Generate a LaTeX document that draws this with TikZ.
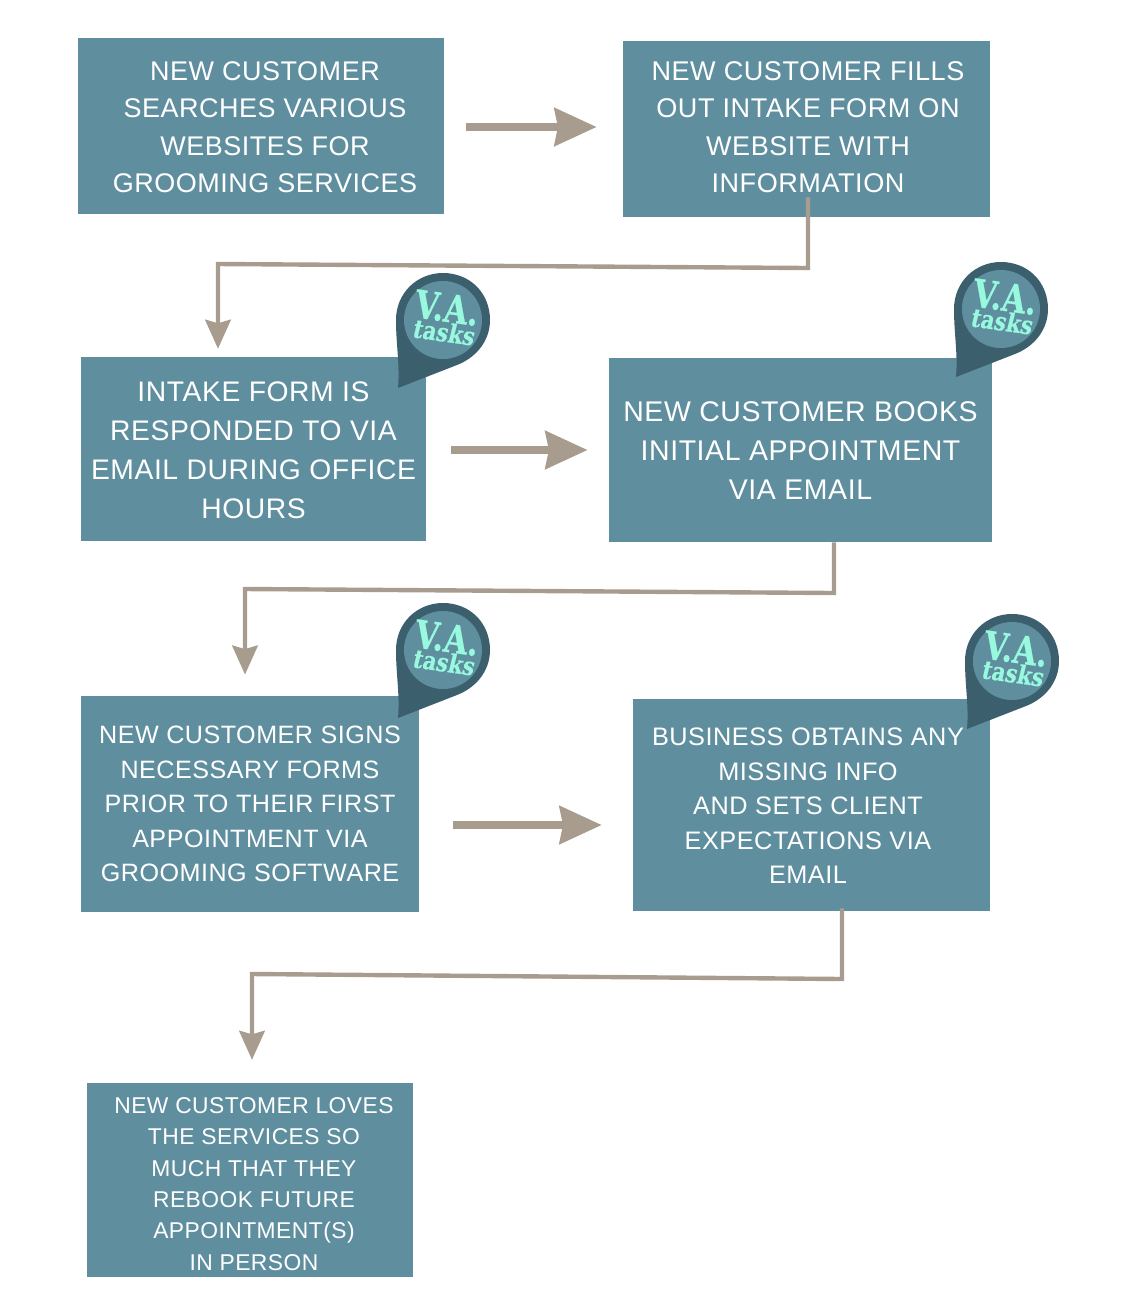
\documentclass[tikz,border=0pt]{standalone}
\usepackage{fontspec}
\setmainfont[LetterSpace=2]{Liberation Sans}
\newfontfamily\vafont[FakeBold=0.6]{DejaVu Serif}
\newfontfamily\tasksfont[FakeBold=0.6, FakeSlant=0.12]{DejaVu Serif}
\usetikzlibrary{arrows.meta, positioning, calc}
\definecolor{boxteal}{HTML}{5F8F9F}
\definecolor{pindark}{HTML}{3B5F6D}
\definecolor{arrowtan}{HTML}{A89C8E}
\definecolor{pinmint}{HTML}{98F9DF}
\newcommand{\boxfont}[2]{\fontsize{#1}{#2}\selectfont}
% text of a box, moved off the centre by #1 and #2
\newcommand{\steplines}[3]{\hspace*{#1}\raisebox{#2}[0pt][0pt]{\begin{tabular}{@{}c@{}}#3\end{tabular}}}
\tikzset{
  stepbox/.style={fill=boxteal, text=white, inner sep=0pt},
  flowarrow/.style={draw=arrowtan, line width=4pt, -{Stealth[length=24pt, width=21.5pt, inset=2pt]}},
  elbowarrow/.style={draw=arrowtan, line width=2.5pt, -{Stealth[length=16.5pt, width=14.5pt, inset=2pt]}},
  vapin/.pic={
    \fill[pindark] (-47,0) .. controls (-47,-27) and (-26,-47) .. (0,-47)
      .. controls (27,-47) and (47,-27) .. (47,0)
      .. controls (47,22) and (32,38) .. (14,45) -- (-45,68)
      .. controls (-43,45) and (-47,25) .. (-47,0) -- cycle;
    \fill[boxteal] (0,0) circle (39*0.02cm);
    \node[text=pinmint, font=\vafont\bfseries\fontsize{22}{22}\selectfont, rotate=-8, xscale=.8, inner sep=0pt] (-va) at (4,-12) {V.A.};
    \node[text=pinmint, font=\tasksfont\bfseries\fontsize{12}{12}\selectfont, rotate=-8, yscale=1.2, inner sep=0pt] (-tasks) at (0.5,12) {tasks};
  }
}
\begin{document}
\begin{tikzpicture}[x=0.02cm, y=-0.02cm]
  \useasboundingbox (0,0) rectangle (1138,1296);
  % boxes
  \node[stepbox, minimum width=366*0.02cm, minimum height=176*0.02cm, font=\boxfont{15.35}{21.3}] (boxA) at (261,126)
    {\steplines{4.5pt}{-5.4pt}{NEW CUSTOMER\\SEARCHES VARIOUS\\WEBSITES FOR\\GROOMING SERVICES}};
  \node[stepbox, minimum width=367*0.02cm, minimum height=176*0.02cm, font=\boxfont{15.4}{21.3}] (boxB) at (806.5,129)
    {\steplines{1.7pt}{-3.5pt}{NEW CUSTOMER FILLS\\OUT INTAKE FORM ON\\WEBSITE WITH\\INFORMATION}};
  \node[stepbox, minimum width=345*0.02cm, minimum height=184*0.02cm, font=\boxfont{16.1}{22.2}] (boxC) at (253.5,449)
    {\steplines{0pt}{-6pt}{INTAKE FORM IS\\RESPONDED TO VIA\\EMAIL DURING OFFICE\\HOURS}};
  \node[stepbox, minimum width=383*0.02cm, minimum height=184*0.02cm, font=\boxfont{16.2}{22.2}] (boxD) at (800.5,450)
    {\steplines{0pt}{-5.6pt}{NEW CUSTOMER BOOKS\\INITIAL APPOINTMENT\\VIA EMAIL}};
  \node[stepbox, minimum width=338*0.02cm, minimum height=216*0.02cm, font=\boxfont{14.3}{19.6}] (boxE) at (250,804)
    {\steplines{0pt}{-4.6pt}{NEW CUSTOMER SIGNS\\NECESSARY FORMS\\PRIOR TO THEIR FIRST\\APPOINTMENT VIA\\GROOMING SOFTWARE}};
  \node[stepbox, minimum width=357*0.02cm, minimum height=212*0.02cm, font=\boxfont{14.4}{19.6}] (boxF) at (811.5,805)
    {\steplines{-4pt}{-5.2pt}{BUSINESS OBTAINS ANY\\MISSING INFO\\AND SETS CLIENT\\EXPECTATIONS VIA\\EMAIL}};
  \node[stepbox, minimum width=326*0.02cm, minimum height=194*0.02cm, font=\boxfont{13}{17.9}] (boxG) at (250,1180)
    {\steplines{4.5pt}{-6.1pt}{NEW CUSTOMER LOVES\\THE SERVICES SO\\MUCH THAT THEY\\REBOOK FUTURE\\APPOINTMENT(S)\\IN PERSON}};
  % pins
  \pic (pinC) at (443,320) {vapin};
  \pic (pinD) at (1001,309) {vapin};
  \pic (pinE) at (443,650) {vapin};
  \pic (pinF) at (1012,661) {vapin};
  % straight arrows
  \coordinate (rowA) at (531,127);
  \coordinate (rowB) at (519,450);
  \coordinate (rowC) at (527,825);
  \draw[flowarrow, shorten <=12.5pt, shorten >=14.8pt] (boxA.east |- rowA) -- (boxB.west |- rowA);
  \draw[flowarrow, shorten <=14.2pt, shorten >=12pt] (boxC.east |- rowB) -- (boxD.west |- rowB);
  \draw[flowarrow, shorten <=19.3pt, shorten >=17.6pt] (boxE.east |- rowC) -- (boxF.west |- rowC);
  % elbows
  \coordinate (turnA) at (808,268);
  \coordinate (turnB) at (218,264);
  \coordinate (turnC) at (834,593);
  \coordinate (turnD) at (245,589);
  \coordinate (turnE) at (842,979);
  \coordinate (turnF) at (252,974);
  \draw[elbowarrow, shorten <=-11.4pt, shorten >=4.5pt] (boxB.south -| turnA) -- (turnA) -- (turnB) -- (boxC.north -| turnB);
  \draw[elbowarrow, shorten >=12pt] (boxD.south -| turnC) -- (turnC) -- (turnD) -- (boxE.north -| turnD);
  \draw[elbowarrow, shorten <=-1.7pt, shorten >=13pt] (boxF.south -| turnE) -- (turnE) -- (turnF) -- (boxG.north -| turnF);
\end{tikzpicture}
\end{document}
